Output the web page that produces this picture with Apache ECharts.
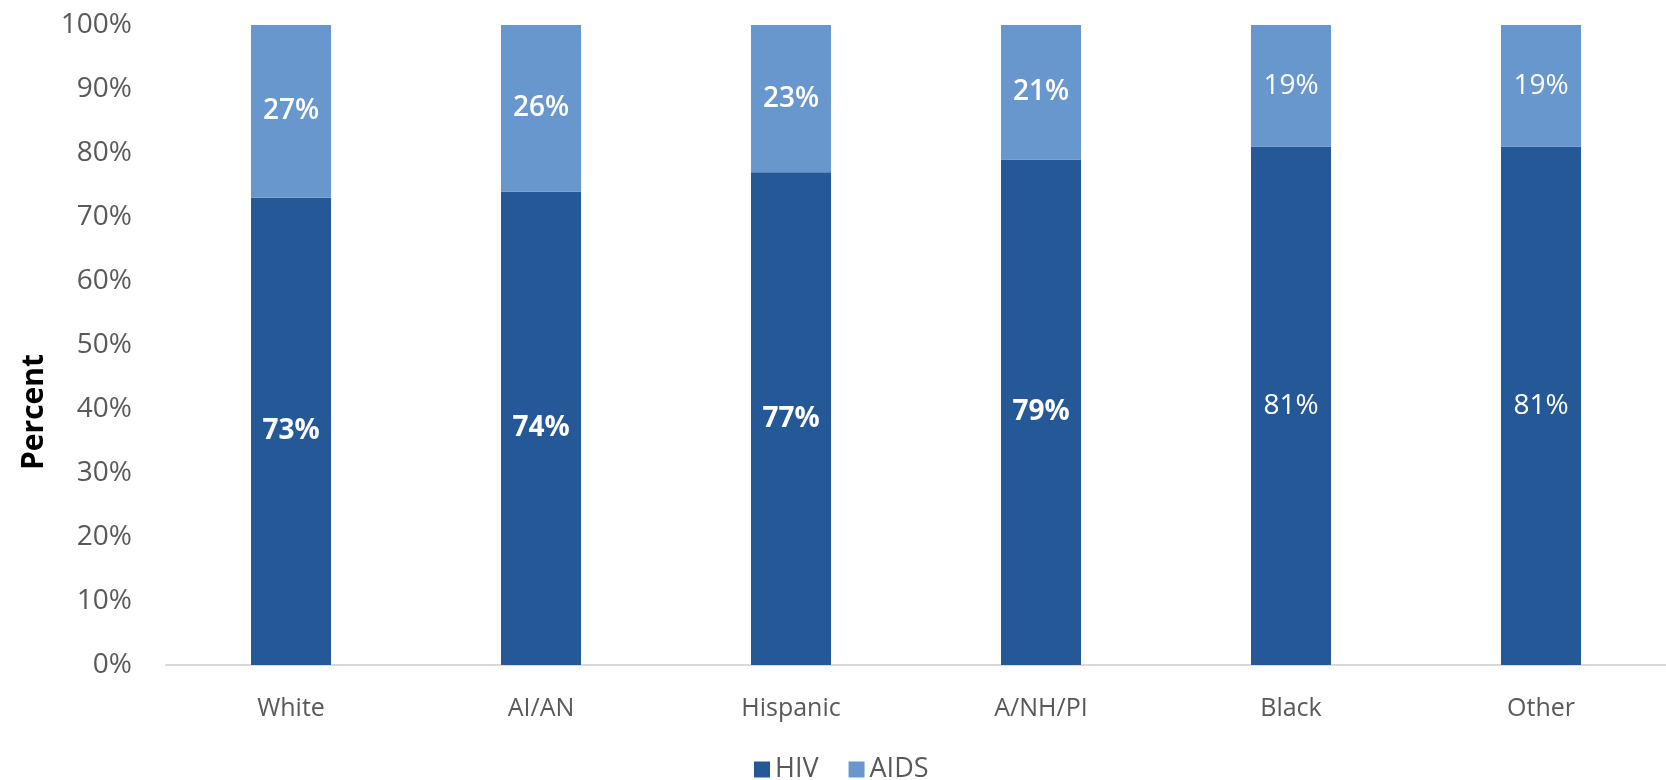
<!DOCTYPE html>
<html>
<head>
<meta charset="utf-8">
<script src="https://cdn.jsdelivr.net/npm/echarts@6/dist/echarts.min.js"></script>
<style>
html,body{margin:0;padding:0;background:#fff;}
#chart{width:1666px;height:780px;}
</style>
</head>
<body>
<div id="chart"></div>
<script>
const categories = ['White', 'AI/AN', 'Hispanic', 'A/NH/PI', 'Black', 'Other'];
const hivValues = [73, 74, 77, 79, 81, 81];
const aidsValues = [27, 26, 23, 21, 19, 19];
const yTicks = [0, 10, 20, 30, 40, 50, 60, 70, 80, 90, 100];

const FONT = '"Open Sans", "Noto Sans", sans-serif';
const chart = echarts.init(document.getElementById('chart'));

const hivData = hivValues.map(v => ({
  value: v,
  label: { fontWeight: v >= 81 ? 'normal' : 'bold' }
}));
const aidsData = aidsValues.map(v => ({
  value: v,
  label: { fontWeight: v <= 19 ? 'normal' : '600' }
}));

chart.setOption({
  animation: false,
  backgroundColor: '#ffffff',
  textStyle: { fontFamily: FONT },
  grid: { left: 166, width: 1518, top: 25, bottom: 115, containLabel: false },
  legend: {
    data: ['HIV', 'AIDS'],
    left: 749,
    top: 751,
    icon: 'rect',
    itemWidth: 16,
    itemHeight: 16,
    itemGap: 30,
    textStyle: { color: '#595959', fontSize: 27, fontFamily: FONT }
  },
  graphic: [{
    type: 'text',
    x: 34,
    y: 412,
    rotation: Math.PI / 2,
    style: {
      text: 'Percent',
      fill: '#000000',
      font: 'bold 30px ' + FONT,
      align: 'center',
      verticalAlign: 'middle'
    }
  }],
  xAxis: {
    type: 'category',
    data: categories,
    axisLine: { show: true, lineStyle: { color: '#d9d9d9', width: 2 } },
    axisTick: { show: false },
    axisLabel: { color: '#595959', fontSize: 25, margin: 31, fontFamily: FONT },
    splitLine: { show: false }
  },
  yAxis: {
    type: 'value',
    min: yTicks[0],
    max: yTicks[yTicks.length - 1],
    interval: 10,
    axisLine: { show: false },
    axisTick: { show: false },
    splitLine: { show: false },
    axisLabel: {
      color: '#595959',
      fontSize: 28,
      margin: 34,
      fontFamily: FONT,
      formatter: v => v + '%'
    }
  },
  series: [
    {
      name: 'HIV',
      type: 'bar',
      stack: 'total',
      barWidth: 80,
      data: hivData,
      itemStyle: { color: '#255897' },
      label: {
        show: true,
        position: 'inside',
        color: '#ffffff',
        fontSize: 28,
        fontFamily: FONT,
        formatter: p => p.value + '%'
      }
    },
    {
      name: 'AIDS',
      type: 'bar',
      stack: 'total',
      barWidth: 80,
      data: aidsData,
      itemStyle: { color: '#6897ce' },
      label: {
        show: true,
        position: 'inside',
        color: '#ffffff',
        fontSize: 28,
        fontFamily: FONT,
        formatter: p => p.value + '%'
      }
    }
  ]
});
</script>
</body>
</html>
